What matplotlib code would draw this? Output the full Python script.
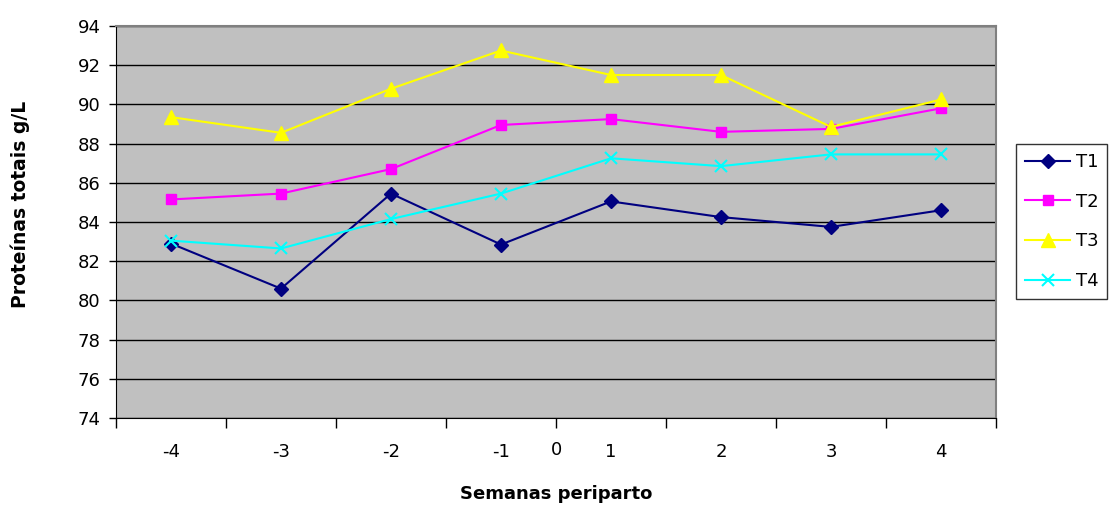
import matplotlib
matplotlib.use("Agg")
import matplotlib.pyplot as plt
import matplotlib.transforms as mtransforms
import numpy as np

plt.rcParams['font.family'] = ['DejaVu Sans']

# semanas periparto (0 = parto, so it sits between -1 and 1)
semanas = ['-4', '-3', '-2', '-1', '1', '2', '3', '4']
t1 = [82.9, 80.6, 85.45, 82.85, 85.05, 84.25, 83.75, 84.6]
t2 = [85.15, 85.45, 86.7, 88.95, 89.25, 88.6, 88.75, 89.8]
t3 = [89.35, 88.55, 90.8, 92.75, 91.5, 91.5, 88.85, 90.25]
t4 = [83.05, 82.65, 84.15, 85.45, 87.25, 86.85, 87.45, 87.45]
yticks = np.arange(74, 95, 2)

fig = plt.figure(figsize=(11.13, 5.05), dpi=100)
ax = fig.add_axes([116/1113, 1-418/505, 880/1113, 392/505])
ax.set_facecolor('#C0C0C0')

x = np.arange(len(semanas))
ax.plot(x, t1, color='#000080', marker='D', markersize=7.5, lw=1.5, label='T1')
ax.plot(x, t2, color='#FF00FF', marker='s', markersize=7.5, lw=1.5, label='T2')
ax.plot(x, t3, color='#FFFF00', marker='^', markersize=9.5, lw=1.5, label='T3')
ax.plot(x, t4, color='#00FFFF', marker='x', markersize=9, mew=1.5, lw=1.5, label='T4')

ax.set_ylim(74, 94)
ax.set_xlim(-0.5, len(semanas) - 0.5)
ax.set_yticks(yticks)
ax.yaxis.grid(True, color='black', lw=1)
ax.set_axisbelow(True)

# ticks at the category edges, labels in the middle
ax.set_xticks(np.arange(-0.5, len(semanas)), labels=[])
ax.set_xticks(x, labels=semanas, minor=True)
ax.tick_params(axis='x', which='major', direction='out', length=7, width=1)
ax.tick_params(axis='x', which='minor', length=0, pad=18, labelsize=13)
ax.tick_params(axis='y', direction='out', length=5, width=1, labelsize=13, pad=6)

tr = mtransforms.blended_transform_factory(ax.transData, ax.transAxes)
ax.text(3.5, -0.082, '0', transform=tr, ha='center', va='center', fontsize=13)

for s in ['top', 'right']:
    ax.spines[s].set_color('#808080')
    ax.spines[s].set_linewidth(1.5)
ax.spines['left'].set_color('black')
ax.spines['bottom'].set_color('black')

ax.set_xlabel('Semanas periparto', fontsize=13, fontweight='bold', labelpad=17)
ax.set_ylabel('Proteínas totais g/L', fontsize=13.5, fontweight='bold', labelpad=35)
ax.yaxis.set_label_coords(-0.098, 0.545)

leg = ax.legend(loc='upper left', bbox_to_anchor=(1016/1113, 1-144/505),
                bbox_transform=fig.transFigure, fontsize=13, frameon=True,
                fancybox=False, edgecolor='black', handlelength=2.5,
                labelspacing=1.2, borderpad=0.5, handletextpad=0.3,
                borderaxespad=0)
leg.get_frame().set_linewidth(1)

fig.savefig('out.png', dpi=100)
